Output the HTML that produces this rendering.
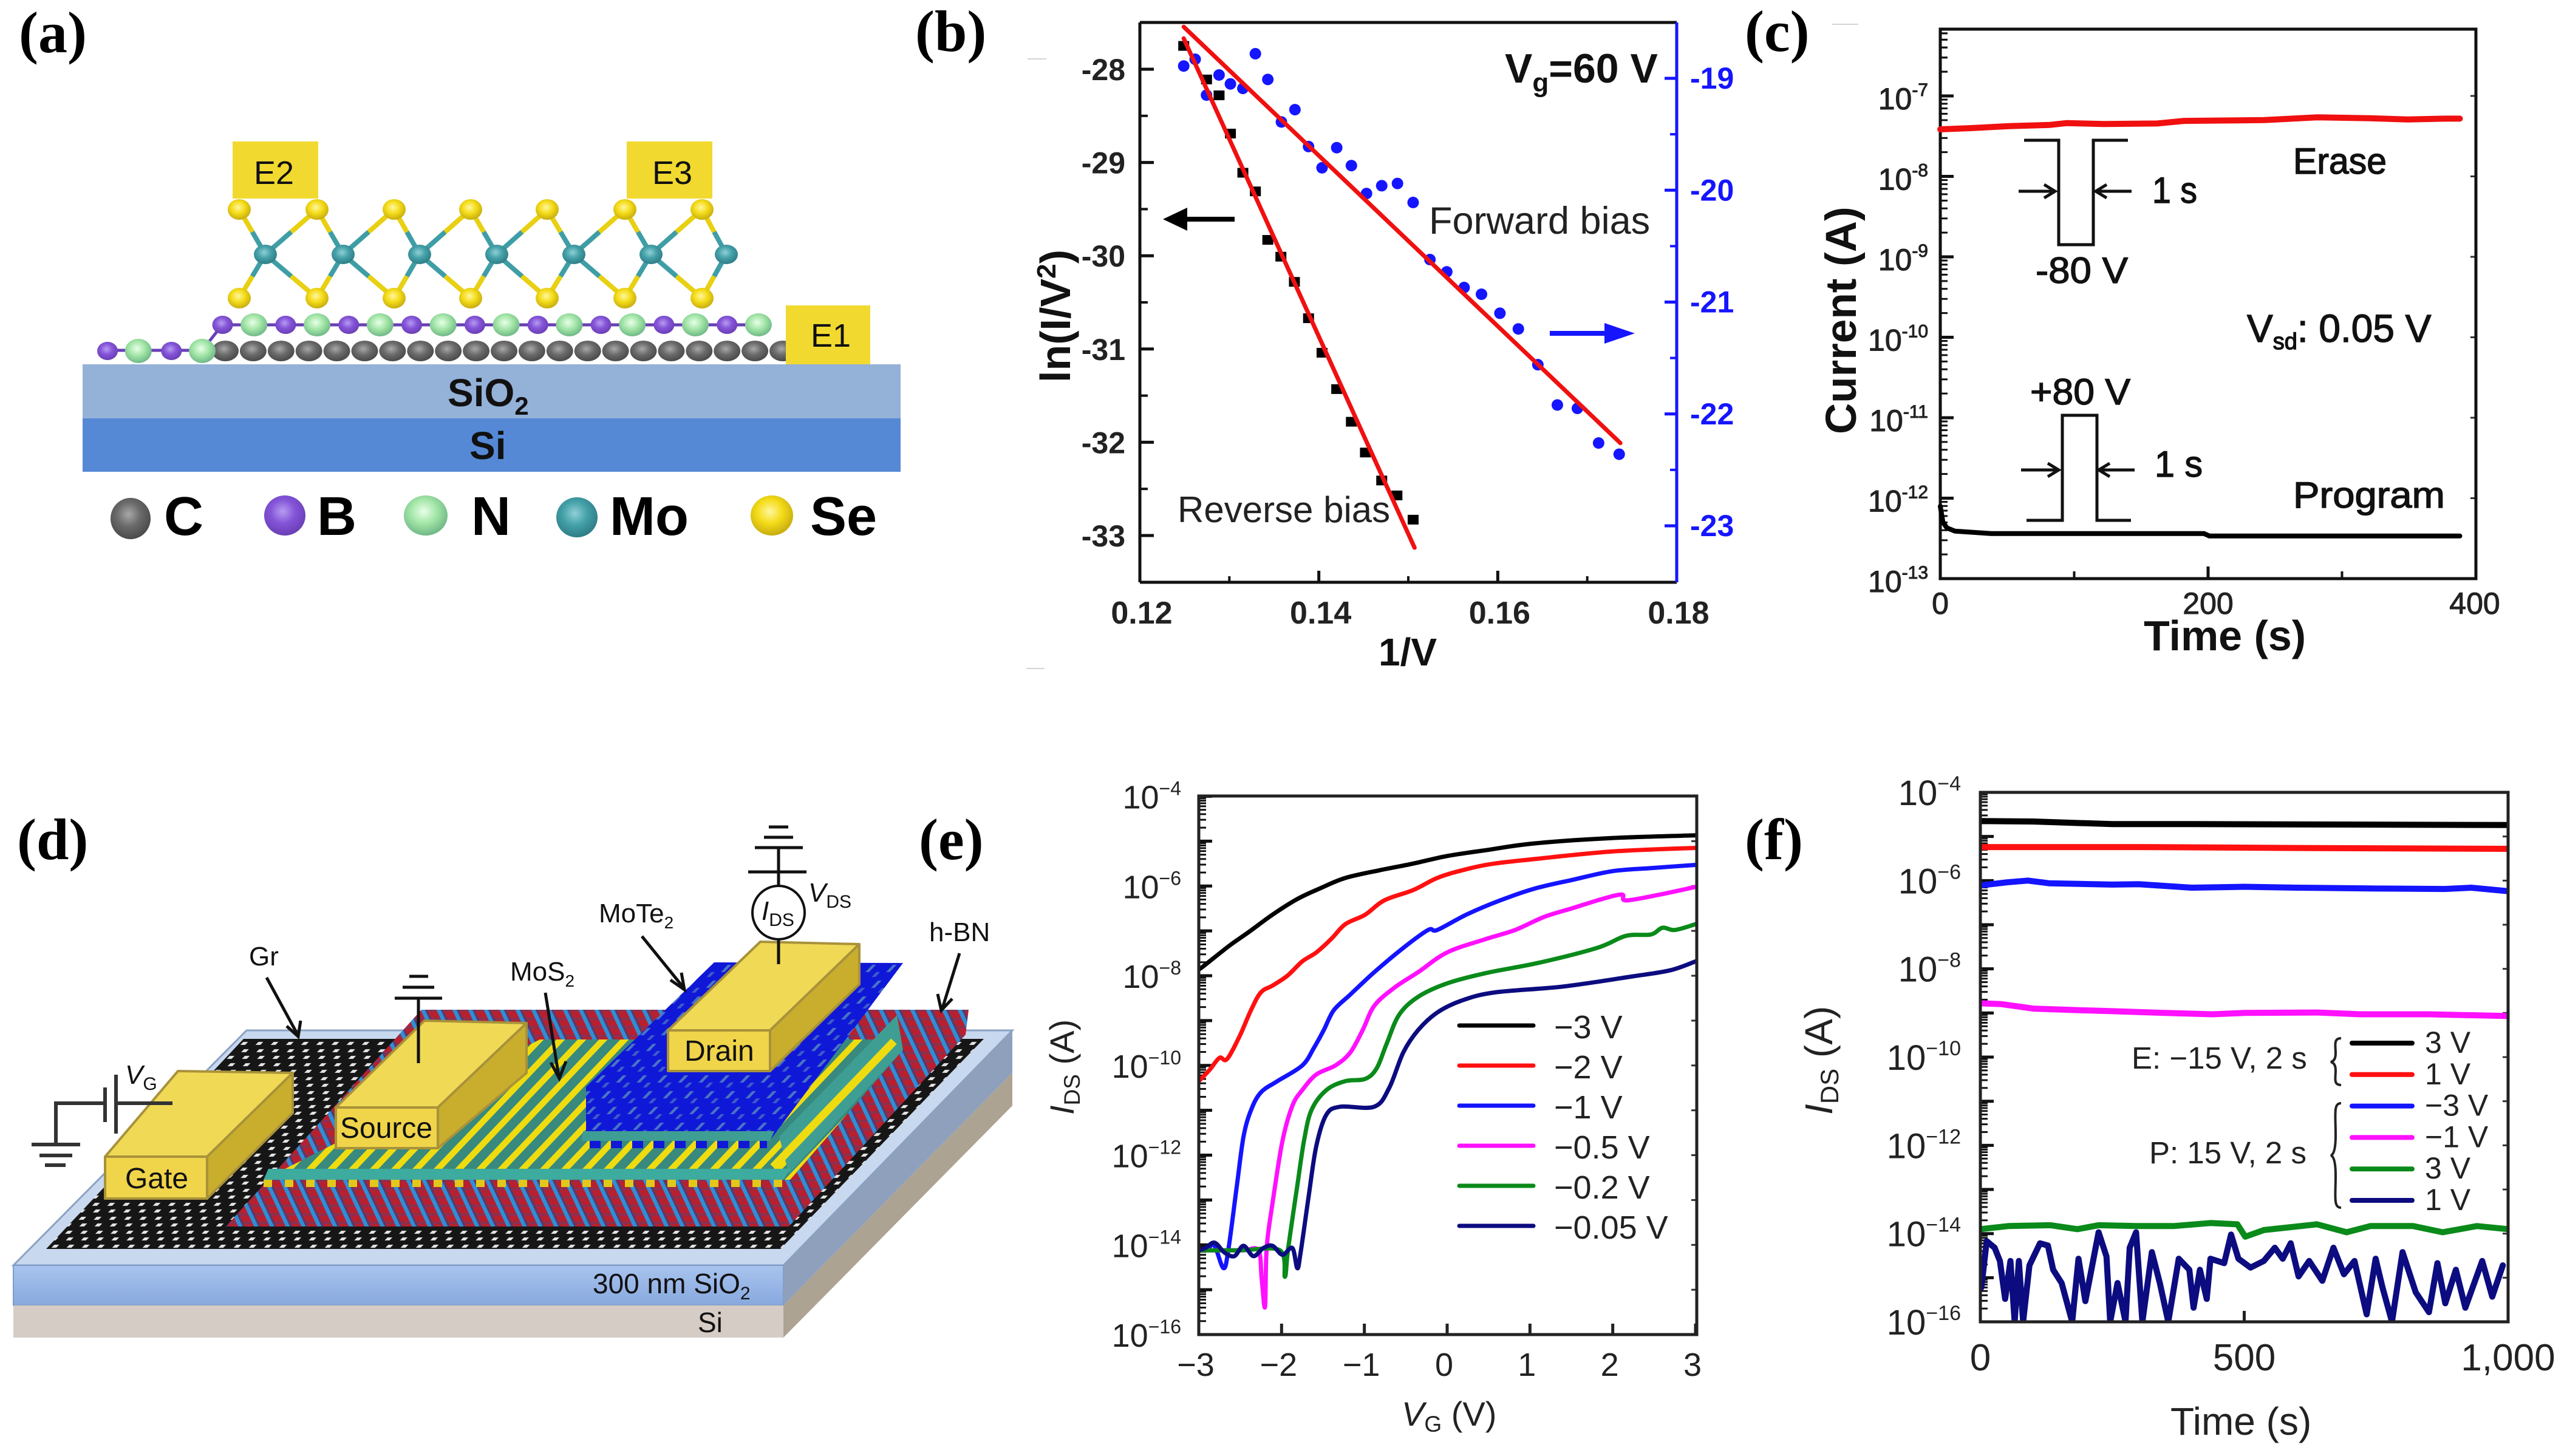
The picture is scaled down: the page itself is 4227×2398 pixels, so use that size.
<!DOCTYPE html>
<html lang="en">
<head>
<meta charset="utf-8">
<title>Six-panel device figure</title>
<style>
html,body{margin:0;padding:0;background:#fff;}
svg{display:block;font-family:"Liberation Sans",sans-serif;}
</style>
</head>
<body>
<svg id="fig" xmlns="http://www.w3.org/2000/svg" width="4227" height="2398" viewBox="0 0 4227 2398">
<defs>
<radialGradient id="gC" cx=".45" cy=".4" r=".6"><stop offset="0" stop-color="#a8a8a8"/><stop offset=".5" stop-color="#6a6a6a"/><stop offset="1" stop-color="#4a4a4a"/></radialGradient>
<radialGradient id="gB" cx=".45" cy=".4" r=".6"><stop offset="0" stop-color="#b79cf0"/><stop offset=".5" stop-color="#8454d8"/><stop offset="1" stop-color="#6a3fb5"/></radialGradient>
<radialGradient id="gN" cx=".45" cy=".4" r=".6"><stop offset="0" stop-color="#e8ffe8"/><stop offset=".5" stop-color="#a4e6a8"/><stop offset="1" stop-color="#6fb886"/></radialGradient>
<radialGradient id="gMo" cx=".45" cy=".4" r=".6"><stop offset="0" stop-color="#8fd0d6"/><stop offset=".5" stop-color="#44a0a8"/><stop offset="1" stop-color="#2f7d86"/></radialGradient>
<radialGradient id="gSe" cx=".45" cy=".4" r=".6"><stop offset="0" stop-color="#fff6a0"/><stop offset=".5" stop-color="#f4dc18"/><stop offset="1" stop-color="#c8ac10"/></radialGradient>
<linearGradient id="gFront" x1="0" y1="0" x2="0" y2="1"><stop offset="0" stop-color="#a8c4ee"/><stop offset="1" stop-color="#88a8de"/></linearGradient>
<pattern id="pGr" patternUnits="userSpaceOnUse" width="25" height="23" patternTransform="matrix(1 0 -0.97 1 0 0)">
<rect width="25" height="23" fill="#161616"/><rect x="3" y="3" width="8" height="5" fill="#e4e4e4"/><rect x="15" y="14" width="8" height="5" fill="#e4e4e4"/>
</pattern>
<pattern id="pBN" patternUnits="userSpaceOnUse" width="26" height="14" patternTransform="matrix(1 0 0.47 1 0 0)">
<rect width="26" height="14" fill="#b8202f"/><rect x="15" width="7" height="14" fill="#2f8ed6"/><rect x="22" width="4" height="14" fill="#5a3a6a"/><rect x="0" y="10" width="15" height="4" fill="#8c3050"/>
</pattern>
<pattern id="pMoS" patternUnits="userSpaceOnUse" width="35" height="12" patternTransform="matrix(1 0 -0.95 1 0 0)">
<rect width="35" height="12" fill="#38897e"/><rect x="23" width="14" height="12" fill="#efdc10"/><rect x="0" width="2" height="12" fill="#efdc10"/>
</pattern>
<pattern id="pMoTe" patternUnits="userSpaceOnUse" width="34" height="26" patternTransform="matrix(1 0 -0.95 1 0 0)">
<rect width="34" height="26" fill="#1018d8"/><rect x="22" y="3" width="6" height="12" fill="#4a74c4"/><rect x="6" y="15" width="6" height="8" fill="#3f5cc8"/>
</pattern>
<pattern id="pTeeth" patternUnits="userSpaceOnUse" width="35" height="14">
<rect x="26" width="9" height="14" fill="#1018d8"/><rect x="0" width="9" height="14" fill="#1018d8"/>
</pattern>
<pattern id="pDash" patternUnits="userSpaceOnUse" width="35" height="12">
<rect x="14" width="14" height="12" fill="#e2c81c"/>
</pattern>
<clipPath id="clipE"><rect x="1974" y="1311" width="820" height="887"/></clipPath>
<clipPath id="clipF"><rect x="3261" y="1305" width="869" height="872"/></clipPath>
<clipPath id="clipB"><rect x="1877" y="37" width="884" height="922"/></clipPath>
</defs>

<!-- faint scan marks -->
<g stroke="#d4d4d4" stroke-width="2">
<line x1="1692" y1="97" x2="1723" y2="97"/>
<line x1="1690" y1="1101" x2="1720" y2="1101"/>
<line x1="3017" y1="40" x2="3060" y2="40"/>
</g>

<!-- panel labels -->
<g font-family="'Liberation Serif',serif" font-weight="700" font-size="96" fill="#000">
<text x="31" y="86">(a)</text>
<text x="1507" y="84">(b)</text>
<text x="2873" y="84">(c)</text>
<text x="28" y="1415">(d)</text>
<text x="1513" y="1415">(e)</text>
<text x="2873" y="1415">(f)</text>
</g>

<!-- panel a -->
<g id="panelA">
<rect x="136" y="600" width="1347" height="89" fill="#94b1d8"/>
<rect x="136" y="689" width="1347" height="88" fill="#5589d6"/>
<rect x="383" y="233" width="141" height="94" fill="#f2d92f"/>
<rect x="1032" y="233" width="141" height="94" fill="#f2d92f"/>
<g id="atoms"></g>
<rect x="1294" y="503" width="139" height="97" fill="#f2d92f"/>
<g fill="#111" font-size="54" text-anchor="middle">
<text x="451" y="303">E2</text>
<text x="1107" y="303">E3</text>
<text x="1368" y="571">E1</text>
</g>
<text x="737" y="669" font-size="64" font-weight="700" fill="#111">SiO<tspan font-size="42" dy="14">2</tspan></text>
<text x="773" y="756" font-size="64" font-weight="700" fill="#111">Si</text>
<g>
<ellipse cx="215" cy="854" rx="33" ry="34" fill="url(#gC)"/>
<ellipse cx="469" cy="849" rx="34" ry="33" fill="url(#gB)"/>
<ellipse cx="701" cy="849" rx="36" ry="33" fill="url(#gN)"/>
<ellipse cx="950" cy="852" rx="34" ry="33" fill="url(#gMo)"/>
<ellipse cx="1271" cy="849" rx="35" ry="33" fill="url(#gSe)"/>
<g font-size="90" font-weight="700" fill="#000">
<text x="270" y="881">C</text>
<text x="522" y="881">B</text>
<text x="776" y="881">N</text>
<text x="1004" y="881">Mo</text>
<text x="1334" y="881">Se</text>
</g>
</g>
</g>

<!-- panel b -->
<g id="panelB">
<g id="bTicks"></g>
<g id="bMarks"></g>
<line x1="1877" y1="37" x2="2761" y2="37" stroke="#111" stroke-width="5"/>
<line x1="1877" y1="37" x2="1877" y2="959" stroke="#111" stroke-width="5"/>
<line x1="1877" y1="959" x2="2761" y2="959" stroke="#111" stroke-width="5"/>
<line x1="2761" y1="37" x2="2761" y2="959" stroke="#1515ff" stroke-width="5"/>
<text transform="translate(1762,630) rotate(-90)" font-size="70" font-weight="700" fill="#111">ln(I/V<tspan font-size="44" dy="-24">2</tspan><tspan dy="24">)</tspan></text>
<text x="2318" y="1096" font-size="64" font-weight="700" text-anchor="middle" fill="#111">1/V</text>
<text x="2478" y="136" font-size="68" font-weight="700" fill="#111">V<tspan font-size="44" dy="15">g</tspan><tspan dy="-15">=60 V</tspan></text>
<text x="2353" y="385" font-size="63" fill="#222">Forward bias</text>
<text x="1939" y="860" font-size="60" fill="#222">Reverse bias</text>
<path d="M2033 361H1945" stroke="#000" stroke-width="8" fill="none"/>
<path d="M1915 361L1955 342V380z" fill="#000"/>
<path d="M2552 549H2650" stroke="#1515ff" stroke-width="8" fill="none"/>
<path d="M2692 549L2642 532V566z" fill="#1515ff"/>
</g>

<!-- panel c -->
<g id="panelC">
<g id="cTicks"></g>
<rect x="3195" y="48" width="882" height="905" fill="none" stroke="#111" stroke-width="5"/>
<g id="cMarks"></g>
<text transform="translate(3056,715) rotate(-90)" font-size="71" font-weight="700" fill="#111">Current (A)</text>
<text x="3530" y="1071" font-size="70" font-weight="700" fill="#111">Time (s)</text>
<g font-size="60" fill="#111" stroke="#111" stroke-width="1.4">
<text x="3776" y="286" textLength="154" lengthAdjust="spacingAndGlyphs">Erase</text>
<text x="3776" y="836" textLength="250" lengthAdjust="spacingAndGlyphs">Program</text>
<text x="3544" y="334" textLength="74" lengthAdjust="spacingAndGlyphs">1 s</text>
<text x="3548" y="785" textLength="79" lengthAdjust="spacingAndGlyphs">1 s</text>
<text x="3352" y="466" textLength="152" lengthAdjust="spacingAndGlyphs">-80 V</text>
<text x="3343" y="666" textLength="165" lengthAdjust="spacingAndGlyphs">+80 V</text>
<text x="3700" y="563" font-size="64">V<tspan font-size="38" dy="12">sd</tspan><tspan dy="-12">: 0.05 V</tspan></text>
</g>
<g fill="none" stroke="#111" stroke-width="5">
<path d="M3333 231H3390V403H3447V231H3504"/>
<path d="M3337 857H3396V684H3453V857H3509"/>
<path d="M3324 315H3380M3366 304L3384 315L3366 326"/>
<path d="M3510 315H3455M3469 304L3451 315L3469 326"/>
<path d="M3328 774H3386M3372 763L3390 774L3372 785"/>
<path d="M3515 774H3460M3474 763L3456 774L3474 785"/>
</g>
</g>

<!-- panel d -->
<g id="panelD">
<polygon points="22,2084 1290,2084 1667,1697 406,1697" fill="#c8d8ef" stroke="#8aa2c4" stroke-width="3"/>
<rect x="22" y="2084" width="1268" height="66" fill="url(#gFront)" stroke="#7f9cc8" stroke-width="2"/>
<rect x="22" y="2150" width="1268" height="53" fill="#d6ccc6"/>
<polygon points="1290,2084 1667,1697 1667,1767 1290,2150" fill="#8ea0bc"/>
<polygon points="1290,2150 1667,1767 1667,1821 1290,2203" fill="#ada393"/>
<polygon points="76,2057 1285,2057 1620,1711 401,1711" fill="url(#pGr)"/>
<polygon points="372,2020 1299,2020 1590,1704 1595,1663 694,1663" fill="url(#pBN)"/>
<polygon points="434,1943 1301,1943 1487,1729 1477,1712 889,1712" fill="url(#pMoS)"/>
<polygon points="1283,1872 1477,1672 1487,1729 1299,1933" fill="#3f9e94"/>
<line x1="1273" y1="1922" x2="1472" y2="1715" stroke="#efdc10" stroke-width="13"/>
<polygon points="442,1925 1301,1925 1290,1943 434,1943" fill="#3dab9e"/>
<rect x="434" y="1943" width="856" height="12" fill="url(#pDash)"/>
<polygon points="965,1878 1268,1878 1487,1586 1176,1585 965,1790" fill="url(#pMoTe)"/>
<polygon points="960,1863 1275,1863 1268,1879 958,1879" fill="#3f9e94"/>
<rect x="971" y="1879" width="292" height="12" fill="url(#pTeeth)"/>
<g stroke="#a8923a" stroke-width="4" stroke-linejoin="round">
<g>
<polygon points="173,1905 341,1905 482,1767 293,1764" fill="#f0d955"/>
<polygon points="341,1905 482,1767 482,1833 341,1974" fill="#c9ae2e"/>
<rect x="173" y="1905" width="168" height="69" fill="#f0d44a"/>
</g>
<g>
<polygon points="553,1824 721,1824 867,1685 699,1681" fill="#f0d955"/>
<polygon points="721,1824 867,1685 867,1767 721,1891" fill="#c9ae2e"/>
<rect x="553" y="1824" width="168" height="67" fill="#f0d44a"/>
</g>
<g>
<polygon points="1100,1697 1268,1697 1415,1555 1252,1551" fill="#f0d955"/>
<polygon points="1268,1697 1415,1555 1415,1621 1268,1764" fill="#c9ae2e"/>
<rect x="1100" y="1697" width="168" height="67" fill="#f0d44a"/>
</g>
</g>
<g font-size="48" fill="#111">
<text x="206" y="1957">Gate</text>
<text x="560" y="1874">Source</text>
<text x="1127" y="1747">Drain</text>
<text x="410" y="1590" font-size="44">Gr</text>
<text x="840" y="1615" font-size="44">MoS<tspan font-size="28" dy="10">2</tspan></text>
<text x="986" y="1519" font-size="44">MoTe<tspan font-size="28" dy="10">2</tspan></text>
<text x="1530" y="1550" font-size="44">h-BN</text>
<text x="976" y="2130" font-size="46">300 nm SiO<tspan font-size="30" dy="10">2</tspan></text>
<text x="1149" y="2194" font-size="46">Si</text>
<text x="206" y="1785" font-size="44"><tspan font-style="italic">V</tspan><tspan font-size="30" dy="10">G</tspan></text>
<text x="1331" y="1485" font-size="44"><tspan font-style="italic">V</tspan><tspan font-size="30" dy="10">DS</tspan></text>
<text x="1254" y="1515" font-size="44"><tspan font-style="italic">I</tspan><tspan font-size="30" dy="10">DS</tspan></text>
</g>
<g stroke="#111" stroke-width="5" fill="none">
<path d="M439 1610L489 1702M472 1690L491 1707L495 1681"/>
<path d="M898 1635L920 1772M907 1750L921 1776L932 1748"/>
<path d="M1057 1542L1125 1626M1104 1614L1127 1630L1122 1602"/>
<path d="M1580 1570L1552 1660M1544 1637L1550 1664L1568 1645"/>
<ellipse cx="1282" cy="1503" rx="43" ry="44" stroke-width="4"/>
<path d="M1282 1436V1459M1282 1547V1588"/>
<path d="M1232 1436H1328M1282 1396V1436M1243 1396H1322M1258 1379H1306M1266 1362H1298"/>
<path d="M650 1644H728M663 1626H715M674 1608H705M689 1644V1751"/>
<path d="M92 1885V1817H173M173 1791V1848M191 1770V1867M191 1817H284" stroke-width="6" stroke="#333"/>
<path d="M52 1885H132M65 1903H119M74 1919H108" stroke-width="6" stroke="#333"/>
</g>
</g>

<!-- panel e -->
<g id="panelE">
<g id="eTicks"></g>
<g id="eMarks" clip-path="url(#clipE)"></g>
<rect x="1974" y="1311" width="820" height="887" fill="none" stroke="#222" stroke-width="5"/>
<text transform="translate(1768,1836) rotate(-90)" font-size="56" fill="#222"><tspan font-style="italic">I</tspan><tspan font-size="37" dy="10">DS</tspan><tspan dy="-10"> (A)</tspan></text>
<text x="2308" y="2348" font-size="56" fill="#222"><tspan font-style="italic">V</tspan><tspan font-size="37" dy="10">G</tspan><tspan dy="-10"> (V)</tspan></text>
<g id="eLegend"></g>
</g>

<!-- panel f -->
<g id="panelF">
<g id="fTicks"></g>
<g id="fMarks" clip-path="url(#clipF)"></g>
<rect x="3261" y="1305" width="869" height="872" fill="none" stroke="#222" stroke-width="5"/>
<text transform="translate(3017,1836) rotate(-90)" font-size="64" fill="#222"><tspan font-style="italic">I</tspan><tspan font-size="42" dy="10">DS</tspan><tspan dy="-10"> (A)</tspan></text>
<text x="3574" y="2363" font-size="64" fill="#222">Time (s)</text>
<g id="fLegend"></g>
<text x="3510" y="1760" font-size="51" fill="#222">E: −15 V, 2 s</text>
<text x="3539" y="1916" font-size="51" fill="#222">P: 15 V, 2 s</text>
<path d="M3855 1710C3842 1710 3846 1722 3846 1735C3846 1745 3842 1748 3838 1749C3842 1750 3846 1753 3846 1763C3846 1776 3842 1787 3855 1787" fill="none" stroke="#222" stroke-width="4"/>
<path d="M3855 1817C3842 1817 3846 1835 3846 1870C3846 1895 3842 1902 3838 1903C3842 1904 3846 1911 3846 1936C3846 1971 3842 1989 3855 1989" fill="none" stroke="#222" stroke-width="4"/>
</g>

<script>
// ---- panel b data ----
const bTickX = [0.12, 0.14, 0.16, 0.18];
const bTickLeft = [-28, -29, -30, -31, -32, -33];
const bTickRight = [-19, -20, -21, -22, -23];
const reverseX = [.1249,.12745,.12885,.13012,.13151,.13291,.1343,.13576,.13727,.13885,.14036,.142,.14364,.14521,.14703,.14873,.15054];
const reverseY = [-27.75,-28.11,-28.28,-28.69,-29.11,-29.31,-29.83,-30.01,-30.28,-30.67,-31.04,-31.43,-31.78,-32.11,-32.41,-32.57,-32.83];
const forwardX = [.1249,.12618,.12745,.12885,.13012,.13151,.13291,.1343,.13582,.13733,.13885,.14036,.142,.14364,.14533,.14703,.14879,.15054,.15242,.1543,.15624,.15818,.16024,.1623,.16448,.16666,.1689,.17127,.17357];
const forwardY = [-18.89,-18.83,-19.15,-18.97,-19.05,-19.09,-18.78,-19.01,-19.39,-19.28,-19.61,-19.80,-19.62,-19.78,-20.03,-19.96,-19.94,-20.11,-20.62,-20.73,-20.87,-20.93,-21.10,-21.24,-21.56,-21.92,-21.95,-22.26,-22.36];
const reverseFitX = [.1249, .1507];
const reverseFitY = [-27.67, -33.13];
const forwardFitX = [.1249, .1737];
const forwardFitY = [-18.54, -22.26];

// ---- panel c data ----
const cTickX = [0, 200, 400];
const cTickExp = [-7, -8, -9, -10, -11, -12, -13];
const eraseT = [0,23,51,82,94,122,162,182,222,242,282,321,349,377,388];
const eraseLog = [-7.415,-7.40,-7.376,-7.36,-7.338,-7.349,-7.343,-7.31,-7.304,-7.30,-7.266,-7.277,-7.293,-7.282,-7.282];
const programT = [0,2,5,11,38,197,201,388];
const programLog = [-12.1,-12.3,-12.37,-12.41,-12.44,-12.44,-12.47,-12.47];

// ---- panel e data ----
const eTickX = [-3,-2,-1,0,1,2,3];
const eTickExp = [-4,-6,-8,-10,-12,-14,-16];
const eNames = ['−3 V','−2 V','−1 V','−0.5 V','−0.2 V','−0.05 V'];
const eColors = ['#000000','#ff1010','#1414ff','#ff10ff','#0a8a1a','#0c0c80'];
const eBlackX = [-3,-2.96,-2.63,-2.40,-2.11,-1.81,-1.52,-1.23,-.82,-.41,0,.47,1.05,1.99,3];
const eBlackY = [-7.85,-7.81,-7.33,-7.03,-6.64,-6.29,-6.04,-5.82,-5.65,-5.50,-5.33,-5.20,-5.05,-4.93,-4.87];
const eRedX = [-3,-2.87,-2.75,-2.66,-2.51,-2.37,-2.25,-2.11,-1.93,-1.75,-1.58,-1.40,-1.23,-.99,-.76,-.41,-.12,.18,.53,1.05,1.99,3];
const eRedY = [-10.35,-10.10,-9.83,-9.86,-9.36,-8.77,-8.37,-8.22,-8.00,-7.68,-7.48,-7.18,-6.85,-6.64,-6.32,-6.09,-5.82,-5.65,-5.51,-5.40,-5.23,-5.15];
const eBlueX = [-3,-2.89,-2.81,-2.70,-2.64,-2.54,-2.46,-2.37,-2.25,-2.05,-1.75,-1.61,-1.49,-1.37,-1.17,-.88,-.53,-.23,-.12,.23,.64,1.05,1.52,1.99,2.46,3];
const eBlueY = [-14.12,-14.07,-14.02,-14.52,-14.07,-12.68,-11.59,-11.0,-10.6,-10.35,-10.0,-9.61,-9.21,-8.77,-8.42,-7.92,-7.38,-6.98,-6.98,-6.64,-6.32,-6.06,-5.86,-5.67,-5.60,-5.53];
const eMagX = [-3,-2.75,-2.46,-2.28,-2.24,-2.20,-2.18,-2.11,-1.99,-1.87,-1.75,-1.58,-1.35,-1.17,-1.02,-.88,-.64,-.35,0,.47,.82,1.17,1.52,1.87,2.11,2.16,2.57,3];
const eMagY = [-14.12,-14.12,-14.12,-14.12,-14.76,-15.38,-14.07,-13.08,-11.69,-10.90,-10.55,-10.20,-10.0,-9.71,-9.21,-8.67,-8.27,-7.92,-7.48,-7.18,-6.98,-6.69,-6.49,-6.29,-6.19,-6.32,-6.19,-6.02];
const eGreenX = [-3,-2.5,-2.02,-1.96,-1.92,-1.81,-1.73,-1.64,-1.46,-1.23,-.99,-.85,-.73,-.58,-.35,0,.47,1.11,1.81,2.16,2.46,2.60,2.75,3];
const eGreenY = [-14.12,-14.12,-14.12,-14.71,-14.07,-12.68,-11.69,-11.0,-10.55,-10.35,-10.30,-10.06,-9.51,-8.87,-8.47,-8.17,-7.94,-7.71,-7.38,-7.11,-7.08,-6.93,-6.98,-6.85];
const eNavyX = [-3,-2.92,-2.81,-2.69,-2.57,-2.46,-2.34,-2.22,-2.11,-1.99,-1.87,-1.81,-1.77,-1.67,-1.58,-1.46,-1.29,-.88,-.70,-.53,-.35,-.12,.18,.58,1.40,2.22,2.69,3];
const eNavyY = [-14.12,-14.07,-13.95,-14.17,-14.25,-14.02,-14.25,-14.07,-14.02,-14.22,-14.07,-14.52,-14.17,-12.88,-11.79,-11.10,-10.92,-10.92,-10.50,-9.71,-9.21,-8.82,-8.55,-8.37,-8.24,-8.02,-7.88,-7.68];

// ---- panel f data ----
const fTickX = [0, 500, 1000];
const fTickLabels = ['0', '500', '1,000'];
const fTickExp = [-4,-6,-8,-10,-12,-14,-16];
const fNames = ['3 V','1 V','−3 V','−1 V','3 V','1 V'];
const fColors = ['#000000','#ff1010','#1414ff','#ff10ff','#0a8a1a','#0c0c80'];
const fBlackT = [0,100,250,400,700,1000];
const fBlackY = [-4.65,-4.66,-4.72,-4.72,-4.73,-4.74];
const fRedT = [0,300,600,1000];
const fRedY = [-5.24,-5.24,-5.26,-5.28];
const fBlueT = [0,50,90,130,250,300,400,500,600,750,880,930,1000];
const fBlueY = [-6.11,-6.04,-6.0,-6.06,-6.09,-6.08,-6.16,-6.14,-6.16,-6.18,-6.19,-6.16,-6.24];
const fMagT = [0,40,100,170,250,350,440,500,640,720,850,1000];
const fMagY = [-8.78,-8.80,-8.90,-8.93,-8.96,-9.0,-9.03,-9.0,-8.99,-9.03,-9.03,-9.07];
const fGreenT = [0,53,133,184,224,295,366,436,487,502,537,638,694,739,820,876,941,1000];
const fGreenY = [-13.90,-13.83,-13.81,-13.90,-13.81,-13.83,-13.83,-13.76,-13.79,-14.07,-13.92,-13.79,-13.97,-13.83,-13.83,-13.97,-13.83,-13.90];
const fNavyT = [2,12,27,37,47,57,65,73,81,93,113,128,138,154,174,186,199,224,239,246,260,275,283,295,307,325,340,356,376,396,404,416,429,436,462,475,489,512,537,558,573,588,603,623,648,669,689,709,732,749,762,780,800,825,850,866,881,901,919,951,970,990];
const fNavyY = [-15.22,-14.17,-14.32,-14.62,-15.48,-14.62,-16,-14.62,-16,-14.72,-14.22,-14.27,-14.82,-15.12,-16,-14.57,-15.53,-13.97,-14.52,-16,-15.12,-16,-14.32,-13.97,-16,-14.42,-15.12,-16,-14.57,-14.82,-15.68,-14.82,-15.48,-14.57,-14.67,-14.02,-14.57,-14.77,-14.62,-14.32,-14.57,-14.22,-14.97,-14.62,-15.07,-14.32,-14.92,-14.62,-15.83,-14.57,-15.22,-16,-14.42,-15.33,-15.78,-14.67,-15.58,-14.82,-15.68,-14.62,-15.43,-14.72];

// ---- axis functions ----
const xB = v => 1877 + (v - 0.12) / 0.06 * 884;
const yBL = v => 114 + (-28 - v) * 153.6;
const yBR = v => 129 + (-19 - v) * 184.25;
const xC = t => 3195 + t / 400 * 882;
const yC = L => 953 - (L + 13) * 132.5;
const xE = v => 1974 + (v + 3) / 6 * 818;
const yE = L => 1311.5 + (-4 - L) * 73.88;
const xF = t => 3261 + t / 1000 * 869;
const yF = L => 1305 + (-4 - L) * 72.67;

const NS = 'http://www.w3.org/2000/svg';
const byId = id => document.getElementById(id);
function mk(tag, attrs, parent) {
  const el = document.createElementNS(NS, tag);
  for (const k in attrs) el.setAttribute(k, attrs[k]);
  parent.appendChild(el);
  return el;
}
function tick(parent, x1, y1, x2, y2, w, color) {
  const el = mk('line', {x1, y1, x2, y2, stroke: color, 'stroke-width': w}, parent);
  
  
}
function label(parent, x, y, str, size, anchor, fill, weight, bolden) {
  const el = mk('text', {x, y, 'font-size': size, 'text-anchor': anchor, fill, 'font-weight': weight, stroke: bolden ? fill : 'none', 'stroke-width': bolden || 0}, parent);
  
  
  el.textContent = str;
}
function powLabel(parent, x, y, expStr, size, expSize, raise, fill, bolden) {
  const el = mk('text', {x, y, 'font-size': size, 'text-anchor': 'end', fill, stroke: bolden ? fill : 'none', 'stroke-width': bolden || 0}, parent);
  
  
  el.textContent = '10';
  const sp = mk('tspan', {'font-size': expSize, dy: -raise}, el);
  sp.textContent = expStr;
}
function seriesPath(parent, xs, ys, fx, fy, color, w, name, smooth) {
  const px = xs.map(fx), py = ys.map(fy);
  let d = 'M' + px[0].toFixed(1) + ' ' + py[0].toFixed(1);
  for (let i = 1; i < px.length; i++) {
    if (smooth) {
      const a = Math.max(i - 2, 0), b = i - 1, c = i, e = Math.min(i + 1, px.length - 1);
      const c1x = px[b] + (px[c] - px[a]) / 6, c1y = py[b] + (py[c] - py[a]) / 6;
      const c2x = px[c] - (px[e] - px[b]) / 6, c2y = py[c] - (py[e] - py[b]) / 6;
      d += 'C' + c1x.toFixed(1) + ' ' + c1y.toFixed(1) + ' ' + c2x.toFixed(1) + ' ' + c2y.toFixed(1) + ' ' + px[c].toFixed(1) + ' ' + py[c].toFixed(1);
    } else {
      d += 'L' + px[i].toFixed(1) + ' ' + py[i].toFixed(1);
    }
  }
  const el = mk('path', {d, fill: 'none', stroke: color, 'stroke-width': w, 'stroke-linejoin': 'round', 'stroke-linecap': 'round'}, parent);
  
  
}
function logTicks(parent, fy, minDec, maxDec, xLeft, xRight, lo, hi) {
  for (let d = minDec; d <= maxDec; d++) {
    tick(parent, xLeft, fy(d), xLeft + 22, fy(d), 5, '#111');
    tick(parent, xRight, fy(d), xRight - 9, fy(d), 3, '#333');
    for (let m = 2; m < 10; m++) {
      const L = d + Math.log10(m);
      if (L < hi && L > lo) tick(parent, xLeft, fy(L), xLeft + 12, fy(L), 3, '#111');
    }
  }
}

// ---- panel a atoms (structure only) ----
(function () {
  const g = byId('atoms');
  const seX = [394, 522, 649, 775, 901, 1029, 1156];
  const moX = [437, 565, 691, 818, 945, 1072, 1196];
  function bond(x1, y1, x2, y2) {
    const mx = (x1 + x2) / 2, my = (y1 + y2) / 2;
    const a = mk('line', {x1, y1, x2: mx, y2: my, stroke: '#e8d012', 'stroke-width': 8}, g);
    
    
    const b = mk('line', {x1: mx, y1: my, x2, y2, stroke: '#3f9ea5', 'stroke-width': 8}, g);
    
    
  }
  moX.forEach((mx, i) => {
    bond(seX[i], 345, mx, 419);
    bond(seX[i], 491, mx, 419);
    if (i < 6) {
      bond(seX[i + 1], 345, mx, 419);
      bond(seX[i + 1], 491, mx, 419);
    }
  });
  function atom(cx, cy, rx, ry, fill, name) {
    const e = mk('ellipse', {cx, cy, rx, ry, fill: 'url(#' + fill + ')'}, g);
    
    
  }
  seX.forEach(x => { atom(x, 345, 19, 17, 'gSe', 'se-atom-top'); atom(x, 491, 19, 17, 'gSe', 'se-atom-bottom'); });
  moX.forEach(x => atom(x, 419, 19, 16, 'gMo', 'mo-atom'));
  const bnLine = mk('path', {d: 'M333 577L366 535H1249M177 577H333', stroke: '#6a3fb5', 'stroke-width': 5, fill: 'none'}, g);
  
  
  for (let i = 0; i < 21; i++) atom(371 + i * 45.9, 578, 22, 17, 'gC', 'carbon-atom');
  for (let i = 0; i < 9; i++) {
    atom((383 + i * 108.5) * 0.957, 535, 17, 15, 'gB', 'boron-atom');
    atom((437 + i * 108.5) * 0.957, 535, 22, 19, 'gN', 'nitrogen-atom');
  }
  [185, 295].forEach(z => atom(z * 0.957, 578, 17, 15, 'gB', 'boron-atom'));
  [238, 348].forEach(z => atom(z * 0.957, 578, 22, 20, 'gN', 'nitrogen-atom'));
})();

// ---- panel b ----
(function () {
  const t = byId('bTicks'), m = byId('bMarks');
  bTickX.forEach(v => {
    tick(t, xB(v), 959, xB(v), 940, 5, '#111');
    label(t, xB(v) + 3, 1027, v.toFixed(2), 52, 'middle', '#222', 700);
  });
  [0.13, 0.15, 0.17].forEach(v => tick(t, xB(v), 959, xB(v), 949, 4, '#111'));
  bTickLeft.forEach(v => {
    tick(t, 1877, yBL(v), 1900, yBL(v), 5, '#111');
    label(t, 1853, yBL(v) + 18, String(v), 50, 'end', '#222', 700);
    if (v > -33) tick(t, 1877, yBL(v - 0.5), 1890, yBL(v - 0.5), 4, '#111');
  });
  tick(t, 1877, yBL(-27.5), 1890, yBL(-27.5), 4, '#111');
  tick(t, 1877, yBL(-33.5), 1890, yBL(-33.5), 4, '#111');
  bTickRight.forEach(v => {
    tick(t, 2761, yBR(v), 2741, yBR(v), 5, '#1515ff');
    label(t, 2783, yBR(v) + 17, String(v), 50, 'start', '#1515ff', 700);
    if (v > -23) tick(t, 2761, yBR(v - 0.5), 2750, yBR(v - 0.5), 4, '#1515ff');
  });
  reverseX.forEach((x, i) => {
    const el = mk('rect', {x: xB(x) - 9, y: yBL(reverseY[i]) - 8, width: 18, height: 16, fill: '#000'}, m);
    
    
  });
  forwardX.forEach((x, i) => {
    const el = mk('circle', {cx: xB(x), cy: yBR(forwardY[i]), r: 9.5, fill: '#1515ff'}, m);
    
    
  });
  seriesPath(m, reverseFitX, reverseFitY, xB, yBL, '#f01010', 7, 'reverse-bias-fit');
  seriesPath(m, forwardFitX, forwardFitY, xB, yBR, '#f01010', 7, 'forward-bias-fit');
})();

// ---- panel c ----
(function () {
  const t = byId('cTicks'), m = byId('cMarks');
  cTickX.forEach(v => label(t, v === 400 ? xC(v) - 2 : xC(v), 1011, String(v), 50, 'middle', '#222', 400, 1));
  tick(t, xC(200), 953, xC(200), 933, 5, '#111');
  tick(t, xC(100), 953, xC(100), 941, 4, '#111');
  tick(t, xC(300), 953, xC(300), 941, 4, '#111');
  cTickExp.forEach(e => powLabel(t, 3175, yC(e) + 22, String(e), 50, 30, 22, '#222', 1));
  logTicks(t, yC, -13, -7, 3195, 4077, -13, -6.18);
  for (let m2 = 2; m2 < 7; m2++) {
    const L = -7 + Math.log10(m2);
    if (L < -6.18) tick(t, 3195, yC(L), 3207, yC(L), 3, '#111');
  }
  seriesPath(m, eraseT, eraseLog, xC, yC, '#f01010', 10, 'erase-current');
  seriesPath(m, programT, programLog, xC, yC, '#000', 8, 'program-current');
})();

// ---- panel e ----
(function () {
  const t = byId('eTicks'), m = byId('eMarks'), lg = byId('eLegend');
  eTickX.forEach(v => {
    tick(t, xE(v), 2198, xE(v), 2180, 5, '#222');
    label(t, xE(v) - 5, 2266, (v < 0 ? '−' : '') + Math.abs(v), 54, 'middle', '#222', 400);
  });
  eTickExp.forEach(e => powLabel(t, 1945, yE(e) + 20, '−' + Math.abs(e), 54, 32, 22, '#222'));
  logTicks(t, yE, -16, -4, 1974, 2794, -16, -4);
  seriesPath(m, eBlackX, eBlackY, xE, yE, eColors[0], 7, 'series-minus-3v', true);
  seriesPath(m, eRedX, eRedY, xE, yE, eColors[1], 7, 'series-minus-2v', true);
  seriesPath(m, eBlueX, eBlueY, xE, yE, eColors[2], 7, 'series-minus-1v', true);
  seriesPath(m, eMagX, eMagY, xE, yE, eColors[3], 7, 'series-minus-0-5v', true);
  seriesPath(m, eGreenX, eGreenY, xE, yE, eColors[4], 7, 'series-minus-0-2v', true);
  seriesPath(m, eNavyX, eNavyY, xE, yE, eColors[5], 7, 'series-minus-0-05v', true);
  eNames.forEach((n, i) => {
    const yy = 1689 + i * 66;
    const ln = mk('line', {x1: 2403, x2: 2525, y1: yy, y2: yy, stroke: eColors[i], 'stroke-width': 7, 'stroke-linecap': 'round'}, lg);
    
    
    const tx = mk('text', {x: 2559, y: yy + 21, 'font-size': 54, fill: '#222'}, lg);
    
    
    tx.textContent = n;
  });
})();

// ---- panel f ----
(function () {
  const t = byId('fTicks'), m = byId('fMarks'), lg = byId('fLegend');
  fTickX.forEach((v, i) => {
    tick(t, xF(v), 2177, xF(v), 2159, 5, '#222');
    label(t, xF(v), 2257, fTickLabels[i], 62, 'middle', '#222', 400);
  });
  fTickExp.forEach(e => powLabel(t, 3229, yF(e) + 21, '−' + Math.abs(e), 58, 34, 24, '#222'));
  logTicks(t, yF, -16, -4, 3261, 4130, -16, -4);
  seriesPath(m, fBlackT, fBlackY, xF, yF, fColors[0], 10, 'erase-3v');
  seriesPath(m, fRedT, fRedY, xF, yF, fColors[1], 10, 'erase-1v');
  seriesPath(m, fBlueT, fBlueY, xF, yF, fColors[2], 10, 'program-minus-3v');
  seriesPath(m, fMagT, fMagY, xF, yF, fColors[3], 10, 'program-minus-1v');
  seriesPath(m, fGreenT, fGreenY, xF, yF, fColors[4], 10, 'program-3v');
  seriesPath(m, fNavyT, fNavyY, xF, yF, fColors[5], 10, 'program-1v');
  fNames.forEach((n, i) => {
    const yy = 1718 + i * 51.8;
    const ln = mk('line', {x1: 3873, x2: 3972, y1: yy, y2: yy, stroke: fColors[i], 'stroke-width': 8, 'stroke-linecap': 'round'}, lg);
    
    
    const tx = mk('text', {x: 3993, y: yy + 16, 'font-size': 50, fill: '#222'}, lg);
    
    
    tx.textContent = n;
  });
})();
</script>
</svg>
</body>
</html>
